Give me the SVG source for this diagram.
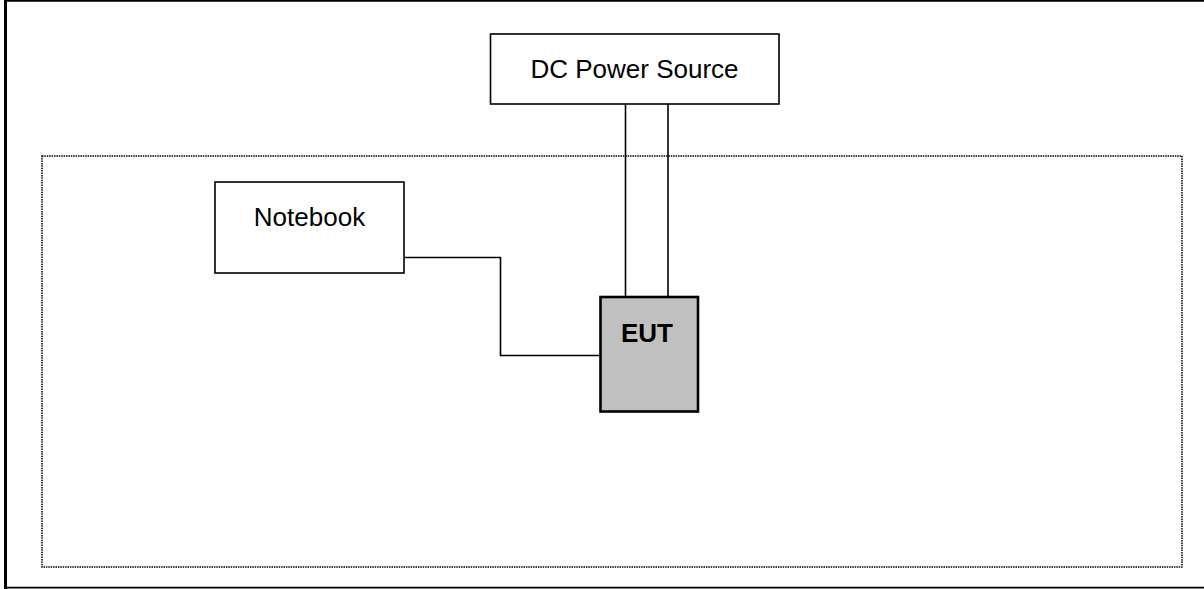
<svg xmlns="http://www.w3.org/2000/svg" width="1204" height="589" viewBox="0 0 1204 589">
<style>
.box{fill:#fff;stroke:#000;stroke-width:1.6}
.eut{fill:#c0c0c0;stroke:#000;stroke-width:2.6}
.wire{fill:none;stroke:#000;stroke-width:1.6}
.lbl{font-family:"Liberation Sans",Arial,sans-serif;font-size:26px;fill:#000;text-anchor:middle}
.bold{font-weight:bold}
</style>
<rect width="1204" height="589" fill="#fff"/>
<g id="frame">
<path d="M1204,0.8 H5.5 V587.6 H1204" fill="none" stroke="#000" stroke-width="1.8"/>
<line x1="5.5" y1="0" x2="5.5" y2="589" stroke="#000" stroke-width="3"/>
</g>
<g id="area">
<rect x="42" y="156" width="1140" height="411" fill="none" stroke="#000" stroke-width="1.5" stroke-dasharray="1.5 0.9"/>
</g>
<g id="connectors">
<line class="wire" x1="625.5" y1="104" x2="625.5" y2="297"/>
<line class="wire" x1="668" y1="104" x2="668" y2="297"/>
<polyline class="wire" points="404,257.5 500.5,257.5 500.5,355.5 600,355.5"/>
</g>
<g id="dc-power-source">
<rect class="box" x="490.5" y="34" width="288.5" height="70"/>
<text class="lbl" x="634.5" y="78.3">DC Power Source</text>
</g>
<g id="notebook">
<rect class="box" x="215" y="182" width="189" height="91"/>
<text class="lbl" x="309.5" y="226">Notebook</text>
</g>
<g id="eut">
<rect class="eut" x="600.5" y="297" width="97.5" height="114.5"/>
<text class="lbl bold" x="647" y="341.5" font-size="25.5">EUT</text>
</g>
</svg>
